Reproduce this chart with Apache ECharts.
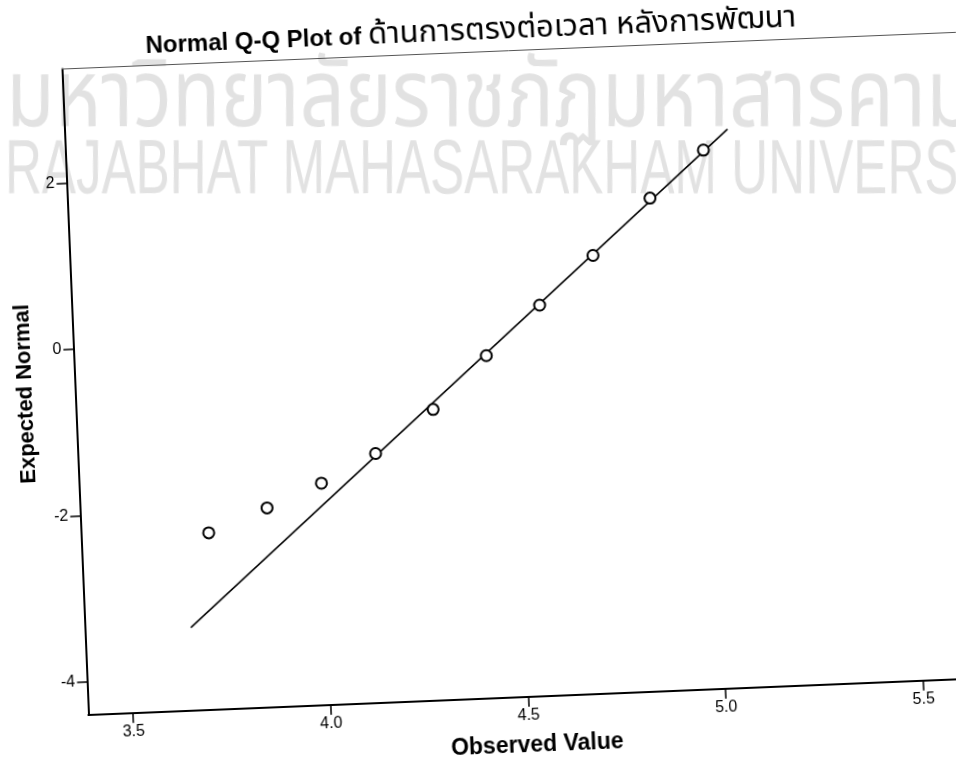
<!DOCTYPE html>
<html>
<head>
<meta charset="utf-8">
<title>Normal Q-Q Plot</title>
<script src="https://cdn.jsdelivr.net/npm/echarts@6/dist/echarts.min.js"></script>
<style>
  html, body { margin: 0; padding: 0; background: #fff; overflow: hidden; width: 956px; height: 775px; }
  /* the scanned page is tilted a little, so the whole chart box is turned round its lower left corner */
  #chart { position: absolute; left: 0; top: 0; width: 1000px; height: 775px;
           transform-origin: 88.4px 714.8px; transform: rotate(-2.35deg); }
</style>
</head>
<body>
<div id="chart"></div>
<script>
// values
const observed = [3.71, 3.86, 4.00, 4.14, 4.29, 4.43, 4.57, 4.71, 4.86, 5.00];
const expected = [-2.27, -2.00, -1.73, -1.40, -0.90, -0.28, 0.30, 0.87, 1.53, 2.08];
const lineObserved = [3.655, 5.063];
const lineExpected = [-3.40, 2.32];
const xTicks = [3.5, 4.0, 4.5, 5.0, 5.5];
const yTicks = [-4, -2, 0, 2];
const xRange = [3.387, 5.65];
const yRange = [-4.395, 3.369];

const titleLatin = 'Normal Q-Q Plot of ';
const titleThai = 'ด้านการตรงต่อเวลา หลังการพัฒนา';
const markThai = 'มหาวิทยาลัยราชภัฏมหาสารคาม';
const markLatin = 'RAJABHAT MAHASARAKHAM UNIVERSITY';

const font = "'Liberation Sans', Arial, sans-serif";
const thaiFont = "'Noto Sans Thai', 'Noto Sans', Loma, Garuda, 'Tlwg Typo', sans-serif";

const tilt = 2.35 * Math.PI / 180;
const pivot = [88.4, 714.8];

// page point -> point inside the turned box (the watermark is level on the page)
function unTilt (x, y) {
  let dx = x - pivot[0], dy = y - pivot[1]
  return [pivot[0] + dx * Math.cos(tilt) - dy * Math.sin(tilt),
          pivot[1] + dx * Math.sin(tilt) + dy * Math.cos(tilt)]
}

function mark (text, x, y, size, sx, sy, family) {
  let p = unTilt(x, y)
  return {
    type: 'text', x: p[0], y: p[1], rotation: -tilt, scaleX: sx, scaleY: sy, z: -10, silent: true,
    style: { text: text, fontSize: size, fontFamily: family, fill: '#e2e2e2', align: 'left', verticalAlign: 'middle' }
  }
}

let chart = echarts.init(document.getElementById('chart'))
let option = {
  animation: false,
  backgroundColor: 'transparent',
  title: {
    text: '{b|' + titleLatin + '}{t|' + titleThai + '}',
    left: 173,
    top: 34,
    padding: 0,
    textStyle: {
      rich: {
        b: { fontSize: 24, fontWeight: 'bold', fontFamily: font, color: '#000' },
        t: { fontSize: 31, fontWeight: 'normal', fontFamily: thaiFont, color: '#000' }
      }
    }
  },
  graphic: [
    mark(markThai, 6, 107, 90, 0.88, 1.05, thaiFont),
    mark(markLatin, 5, 172, 72, 0.71, 1.067, font)
  ],
  grid: { left: 88.4, right: 1000 - 983, top: 68.5, bottom: 775 - 714.8, outerBoundsMode: 'none', containLabel: false },
  xAxis: [
    {
      type: 'value',
      position: 'bottom',
      min: xRange[0],
      max: xRange[1],
      name: 'Observed Value',
      nameLocation: 'middle',
      nameGap: 37,
      nameTextStyle: { fontSize: 23, fontWeight: 'bold', fontFamily: font, color: '#000' },
      axisLine: { show: true, onZero: false, lineStyle: { color: '#000', width: 2 } },
      axisTick: { show: true, customValues: xTicks, length: 10, lineStyle: { color: '#000', width: 1.5 } },
      axisLabel: { customValues: xTicks, formatter: v => v.toFixed(1), margin: 11, fontSize: 16, fontFamily: font, color: '#000' },
      splitLine: { show: false }
    },
    {
      type: 'value',
      position: 'top',
      min: xRange[0],
      max: xRange[1],
      axisLine: { show: true, onZero: false, lineStyle: { color: '#555', width: 1 } },
      axisTick: { show: false },
      axisLabel: { show: false },
      splitLine: { show: false }
    }
  ],
  yAxis: {
    type: 'value',
    min: yRange[0],
    max: yRange[1],
    name: 'Expected Normal',
    nameLocation: 'middle',
    nameGap: 38,
    nameTextStyle: { fontSize: 22, fontWeight: 'bold', fontFamily: font, color: '#000' },
    axisLine: { show: true, onZero: false, lineStyle: { color: '#000', width: 2 } },
    axisTick: { show: true, customValues: yTicks, length: 10, lineStyle: { color: '#000', width: 1.5 } },
    axisLabel: { customValues: yTicks, margin: 12, fontSize: 16, fontFamily: font, color: '#000' },
    splitLine: { show: false }
  },
  series: [
    {
      type: 'line',
      data: lineObserved.map((x, i) => [x, lineExpected[i]]),
      symbol: 'none',
      lineStyle: { color: '#000', width: 1.6 },
      z: 2
    },
    {
      type: 'scatter',
      data: observed.map((x, i) => [x, expected[i]]),
      symbol: 'circle',
      symbolSize: 11,
      itemStyle: { color: '#fff', borderColor: '#000', borderWidth: 2, opacity: 1 },
      z: 3
    }
  ]
}
chart.setOption(option)
</script>
</body>
</html>
